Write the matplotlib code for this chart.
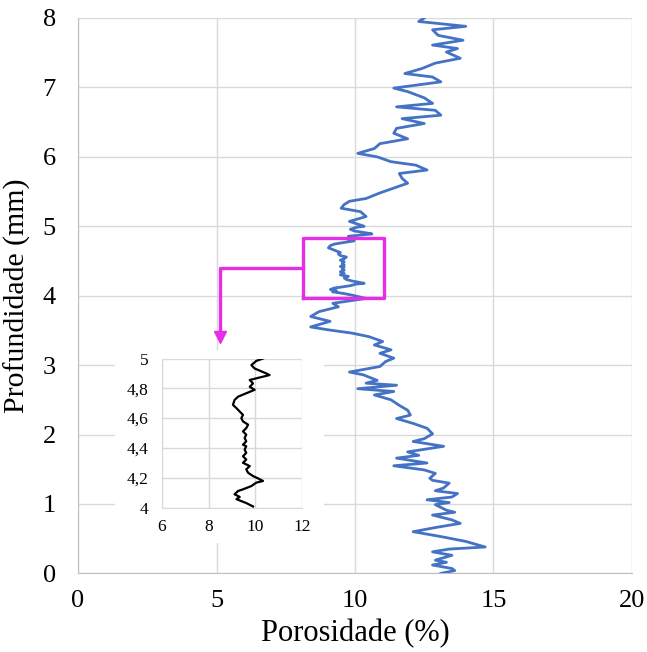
import matplotlib
matplotlib.use('Agg')
import matplotlib.pyplot as plt
from matplotlib.ticker import FuncFormatter

plt.rcParams['font.family'] = ['Liberation Serif', 'DejaVu Serif']

# perfil completo (profundidade em mm, porosidade em %), fora da zona 4-5 mm
depth_low = [0.00, 0.04, 0.07, 0.12, 0.16, 0.19, 0.26, 0.31, 0.35, 0.38,
             0.46, 0.53, 0.60, 0.66, 0.72, 0.77, 0.84, 0.88, 0.91, 0.99,
             1.02, 1.06, 1.10, 1.15, 1.19, 1.23, 1.30, 1.34, 1.37, 1.44,
             1.49, 1.55, 1.59, 1.66, 1.70, 1.75, 1.83, 1.90, 1.94, 2.01,
             2.09, 2.16, 2.23, 2.28, 2.35, 2.42, 2.50, 2.57, 2.62, 2.66,
             2.71, 2.74, 2.78, 2.86, 2.90, 2.98, 3.05, 3.10, 3.17, 3.22,
             3.29, 3.34, 3.41, 3.46, 3.51, 3.55, 3.63, 3.70, 3.77, 3.84,
             3.89, 3.96]
poro_low = [13.1, 13.6, 13.5, 12.8, 13.3, 12.9, 13.5, 12.8, 13.4, 14.7,
            14.0, 13.1, 12.1, 12.9, 13.8, 13.5, 12.8, 13.6, 13.3, 12.9,
            13.4, 12.6, 13.5, 13.7, 12.9, 13.2, 13.4, 12.8, 12.7, 12.9,
            12.5, 11.4, 12.6, 11.5, 12.3, 11.9, 13.2, 12.1, 12.5, 12.8,
            12.6, 12.1, 11.5, 12.0, 11.9, 11.6, 11.3, 10.7, 11.4, 10.1,
            11.5, 10.4, 10.8, 10.3, 9.8, 10.9, 11.1, 11.4, 10.9, 11.3,
            10.7, 11.0, 10.5, 9.9, 9.0, 8.4, 9.1, 8.4, 8.7, 9.4,
            9.2, 10.4]

depth_high = [5.07, 5.14, 5.21, 5.26, 5.31, 5.36, 5.40, 5.48, 5.55, 5.62,
              5.69, 5.76, 5.81, 5.88, 5.93, 6.00, 6.05, 6.12, 6.19, 6.26,
              6.34, 6.41, 6.48, 6.55, 6.60, 6.67, 6.72, 6.77, 6.85, 6.94,
              6.99, 7.08, 7.15, 7.20, 7.27, 7.35, 7.42, 7.51, 7.56, 7.61,
              7.68, 7.75, 7.83, 7.88, 7.95, 8.00]
poro_high = [9.8, 10.4, 10.2, 9.5, 9.6, 9.8, 10.4, 10.9, 11.4, 11.9,
             11.7, 11.6, 12.6, 12.2, 11.3, 10.8, 10.1, 10.7, 10.9, 11.9,
             11.4, 11.5, 12.5, 11.7, 13.1, 12.9, 11.5, 12.8, 12.5, 11.9,
             11.4, 13.1, 12.8, 11.8, 12.4, 12.9, 13.8, 13.3, 13.7, 12.8,
             13.9, 13.0, 12.8, 14.0, 12.3, 12.5]

# detalhe 4-5 mm
depth_zoom = [4.007, 4.03, 4.056, 4.071, 4.089, 4.111, 4.122, 4.144, 4.167,
              4.178, 4.196, 4.211, 4.233, 4.256, 4.278, 4.3, 4.322, 4.344,
              4.367, 4.389, 4.411, 4.422, 4.444, 4.467, 4.489, 4.511, 4.533,
              4.556, 4.578, 4.6, 4.622, 4.644, 4.667, 4.689, 4.722, 4.744,
              4.767, 4.79, 4.81, 4.833, 4.856, 4.873, 4.889, 4.9, 4.933,
              4.956, 4.984, 5.0]
poro_zoom = [9.9, 9.61, 9.19, 9.33, 9.11, 9.26, 9.47, 9.83, 10.04, 10.33,
             10.11, 9.9, 9.69, 9.61, 9.76, 9.47, 9.61, 9.47, 9.61, 9.54,
             9.61, 9.47, 9.61, 9.54, 9.61, 9.47, 9.61, 9.69, 9.47, 9.4,
             9.47, 9.33, 9.19, 9.04, 9.11, 9.26, 9.61, 9.97, 9.76, 9.9,
             9.76, 10.19, 10.61, 10.47, 9.97, 9.83, 10.04, 10.33]

x_ticks = [0, 5, 10, 15, 20]
y_ticks = [0, 1, 2, 3, 4, 5, 6, 7, 8]
zx_ticks = [6, 8, 10, 12]
zy_ticks = [4, 4.2, 4.4, 4.6, 4.8, 5]

blue = '#4472C4'
grid = '#D9D9D9'
magenta = '#E62EE6'

depth_all = depth_low + depth_zoom + depth_high
poro_all = poro_low + poro_zoom + poro_high

fig = plt.figure(figsize=(6.47, 6.52), dpi=100)
ax = fig.add_axes([0.1206, 0.1206, 0.8562, 0.8518])
ax.plot(poro_all, depth_all, color=blue, lw=2.0, zorder=3)
ax.set_xlim(0, 20)
ax.set_ylim(0, 8)
ax.set_xticks(x_ticks)
ax.set_yticks(y_ticks)
ax.grid(True, color=grid, lw=1)
ax.set_axisbelow(True)
for s in ['top', 'right']:
    ax.spines[s].set_visible(False)
for s in ['left', 'bottom']:
    ax.spines[s].set_color('#BFBFBF')
ax.tick_params(length=0, labelsize=19)
ax.tick_params(axis='x', pad=12)
ax.tick_params(axis='y', pad=16)
ax.set_xlabel('Porosidade (%)', fontsize=22, labelpad=5)
ax.set_ylabel('Profundidade (mm)', fontsize=21.5, labelpad=8)

# caixa de destaque e seta
ax.plot([8.11, 11.06, 11.06, 8.11, 8.11], [3.96, 3.96, 4.83, 4.83, 3.96],
        color=magenta, lw=2.4, zorder=4)
ax.plot([8.11, 5.13, 5.13], [4.40, 4.40, 3.45], color=magenta, lw=2.4, zorder=4)
ax.plot([5.13], [3.41], marker='v', ms=9, color=magenta, zorder=4)

# fundo branco do detalhe
bg = fig.add_axes([0.178, 0.167, 0.322, 0.296])
bg.set_facecolor('white')
bg.set_xticks([])
bg.set_yticks([])
for s in bg.spines.values():
    s.set_visible(False)
bg.set_zorder(2)

ins = fig.add_axes([0.2504, 0.2216, 0.2164, 0.2285])
ins.set_zorder(3)
ins.plot(poro_zoom, depth_zoom, color='black', lw=1.6)
ins.set_xlim(6, 12)
ins.set_ylim(4, 5)
ins.set_xticks(zx_ticks)
ins.set_yticks(zy_ticks)
ins.yaxis.set_major_formatter(FuncFormatter(lambda v, p: ('%g' % v).replace('.', ',')))
ins.grid(True, color=grid, lw=1)
ins.set_axisbelow(True)
for s in ['top', 'right']:
    ins.spines[s].set_visible(False)
for s in ['left', 'bottom']:
    ins.spines[s].set_color(grid)
ins.tick_params(length=0, labelsize=12.5)
ins.tick_params(axis='x', pad=8)
ins.tick_params(axis='y', pad=10)

plt.savefig('out.png', dpi=100)
